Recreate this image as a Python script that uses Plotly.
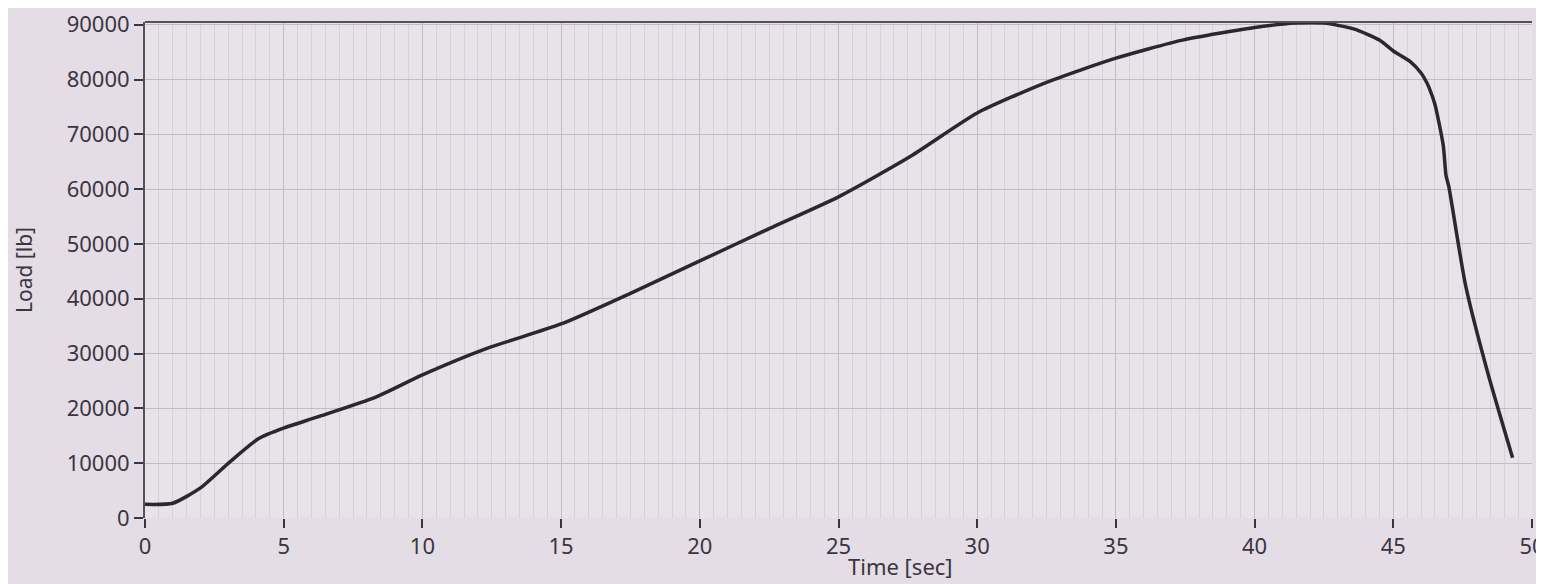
import plotly.graph_objects as go

# Load vs time
time_s = [0.0, 1.0, 2.0, 3.05, 4.1, 5.0, 6.2, 8.3, 10.0, 12.3, 15.0, 17.5, 20.0,
          22.5, 25.0, 27.6, 30.0, 32.5, 35.0, 37.4, 40.0, 41.5, 42.5, 43.6, 44.5,
          45.0, 45.6, 46.0, 46.2, 46.3, 46.5, 46.8, 46.9, 47.0, 47.6, 48.4, 49.3]
load_lb = [2500, 2700, 5500, 10200, 14500, 16400, 18400, 22000, 26100, 30900, 35400,
           41000, 46900, 52800, 58600, 66000, 73900, 79500, 83900, 87200, 89500,
           90300, 90300, 89200, 87200, 85200, 83300, 81200, 79500, 78400, 75500,
           68000, 62500, 60500, 42600, 26600, 11000]

x_ticks = [0, 5, 10, 15, 20, 25, 30, 35, 40, 45, 50]
y_ticks = [0, 10000, 20000, 30000, 40000, 50000, 60000, 70000, 80000, 90000]

bg = "#e4dde5"
grid_major = "#c2bbc7"
grid_minor = "#d8d1db"
ink = "#3a3540"
font_family = "Noto Sans, Open Sans, sans-serif"

fig = go.Figure()
fig.add_trace(go.Scatter(
    x=time_s, y=load_lb, mode="lines",
    line=dict(color="#2b2631", width=3.5, shape="spline", smoothing=0.6),
    showlegend=False, hoverinfo="x+y",
))

fig.update_layout(
    width=1544, height=584,
    margin=dict(l=137, r=20, t=14, b=74),
    paper_bgcolor=bg, plot_bgcolor="#e8e2e9",
    font=dict(family=font_family, size=22, color=ink),
    xaxis=dict(
        range=[0, 50], tickvals=x_ticks, ticktext=[str(v) for v in x_ticks],
        showgrid=True, gridcolor=grid_major, gridwidth=1.3,
        minor=dict(dtick=0.5, showgrid=True, gridcolor=grid_minor, gridwidth=1),
        showline=False, zeroline=False, automargin=False,
        ticks="outside", ticklen=9, tickwidth=2, tickcolor=ink,
        ticklabelstandoff=0, ticklabeloverflow="allow",
    ),
    yaxis=dict(
        range=[0, 90500], tickvals=y_ticks, ticktext=[str(v) for v in y_ticks],
        showgrid=True, gridcolor=grid_major, gridwidth=1.3,
        showline=True, linecolor="#55505a", linewidth=2, mirror=False,
        zeroline=False, automargin=False, ticklabeloverflow="allow",
        ticks="outside", ticklen=9, tickwidth=2, tickcolor=ink,
        title=dict(text="Load [lb]", font=dict(size=21, color=ink), standoff=28),
    ),
    shapes=[dict(type="line", xref="paper", yref="paper", x0=0, x1=1, y0=1, y1=1,
                 line=dict(color="#55505a", width=2))],
    annotations=[dict(text="Time [sec]", xref="paper", yref="paper", x=0.545, y=-0.097,
                      xanchor="center", yanchor="middle", showarrow=False,
                      font=dict(size=22, color=ink))],
)

fig.write_html("out.html")
